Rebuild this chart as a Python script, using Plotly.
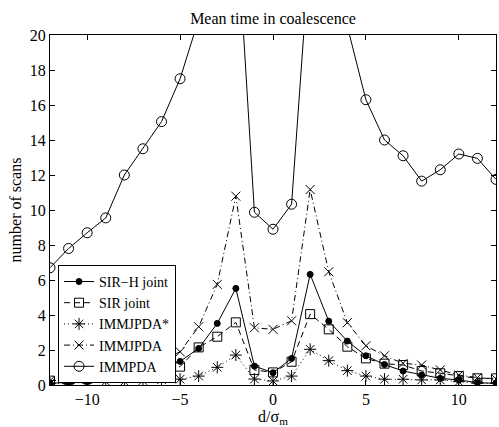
import plotly.graph_objects as go

x_vals = list(range(-12, 13))

sirh_joint = [0.10, 0.15, 0.20, 0.30, 0.40, 0.60, 0.90, 1.35, 2.09, 3.52, 5.52, 1.08, 0.70,
              1.52, 6.32, 3.65, 2.51, 1.67, 1.17, 0.80, 0.57, 0.38, 0.29, 0.13, 0.10]
sir_joint = [0.25, 0.30, 0.35, 0.45, 0.55, 0.70, 0.90, 1.05, 2.15, 2.76, 3.58, 0.86, 0.72,
             1.33, 4.05, 3.18, 2.19, 1.52, 1.22, 1.14, 0.80, 0.67, 0.51, 0.38, 0.38]
immjpda_star = [0.10, 0.10, 0.15, 0.20, 0.20, 0.25, 0.30, 0.33, 0.51, 1.01, 1.71, 0.34, 0.23,
                0.51, 2.04, 1.39, 0.82, 0.51, 0.33, 0.33, 0.29, 0.29, 0.19, 0.10, 0.10]
immjpda = [0.25, 0.30, 0.45, 0.60, 0.80, 1.00, 1.40, 1.90, 3.33, 5.75, 10.79, 3.27, 3.18,
           3.67, 11.17, 6.47, 3.56, 2.24, 1.67, 1.24, 1.14, 0.86, 0.57, 0.42, 0.34]
immpda = [6.70, 7.80, 8.70, 9.55, 12.00, 13.50, 15.05, 17.50, 20.90, 28.00, 27.30, 9.87, 8.90,
          10.33, 25.20, 27.00, 20.50, 16.30, 14.00, 13.10, 11.65, 12.30, 13.20, 12.95, 11.75]

series_names = ["SIR\u2212H joint", "SIR joint", "IMMJPDA*", "IMMJPDA", "IMMPDA"]
x_tick_vals = [-10, -5, 0, 5, 10]
x_tick_text = ["\u221210", "\u22125", "0", "5", "10"]
y_tick_vals = [0, 2, 4, 6, 8, 10, 12, 14, 16, 18, 20]

FONT = "Liberation Serif, Times New Roman, serif"

styles = [
    dict(data=sirh_joint, dash="solid", symbol="circle", size=6),
    dict(data=sir_joint, dash="6px,4px", symbol="square-open", size=9),
    dict(data=immjpda_star, dash="1px,3px", symbol="asterisk-open", size=10),
    dict(data=immjpda, dash="6px,3px,1px,3px", symbol="x-thin-open", size=9),
    dict(data=immpda, dash="solid", symbol="circle-open", size=10),
]

fig = go.Figure()
for name, st in zip(series_names, styles):
    fig.add_trace(go.Scatter(
        x=x_vals, y=st["data"], name=name, mode="lines+markers",
        line=dict(color="black", width=1, dash=st["dash"]),
        marker=dict(symbol=st["symbol"], size=st["size"], color="black",
                    line=dict(color="black", width=1)),
        cliponaxis=True,
    ))

fig.update_layout(
    width=499, height=427,
    margin=dict(l=50, r=3, t=35, b=42),
    paper_bgcolor="white", plot_bgcolor="white",
    font=dict(family=FONT, size=16, color="black"),
    title=dict(text="Mean time in coalescence", x=0.5, xref="paper", xanchor="center",
               y=1 - 18 / 427, yref="container", yanchor="middle",
               font=dict(family=FONT, size=16, color="black")),
    showlegend=True,
    legend=dict(x=0.018, y=0.006, xanchor="left", yanchor="bottom",
                bgcolor="white", bordercolor="black", borderwidth=1,
                font=dict(family=FONT, size=14, color="black"),
                tracegroupgap=0, itemwidth=30),
)

fig.update_xaxes(range=[-12, 12], tickvals=x_tick_vals, ticktext=x_tick_text,
                 ticks="inside", ticklen=5, tickcolor="black", mirror="ticks",
                 showline=True, linecolor="black", linewidth=1, showgrid=False,
                 zeroline=False,
                 title=dict(text="d/\u03c3<sub>m</sub>", standoff=2,
                            font=dict(family=FONT, size=16)))
fig.update_yaxes(range=[0, 20], tickvals=y_tick_vals,
                 ticks="inside", ticklen=5, tickcolor="black", mirror="ticks",
                 showline=True, linecolor="black", linewidth=1, showgrid=False,
                 zeroline=False,
                 title=dict(text="number of scans", standoff=4,
                            font=dict(family=FONT, size=16)))

fig.write_html("out.html", config={"displayModeBar": False},
               post_script="document.body.style.margin='0';")
